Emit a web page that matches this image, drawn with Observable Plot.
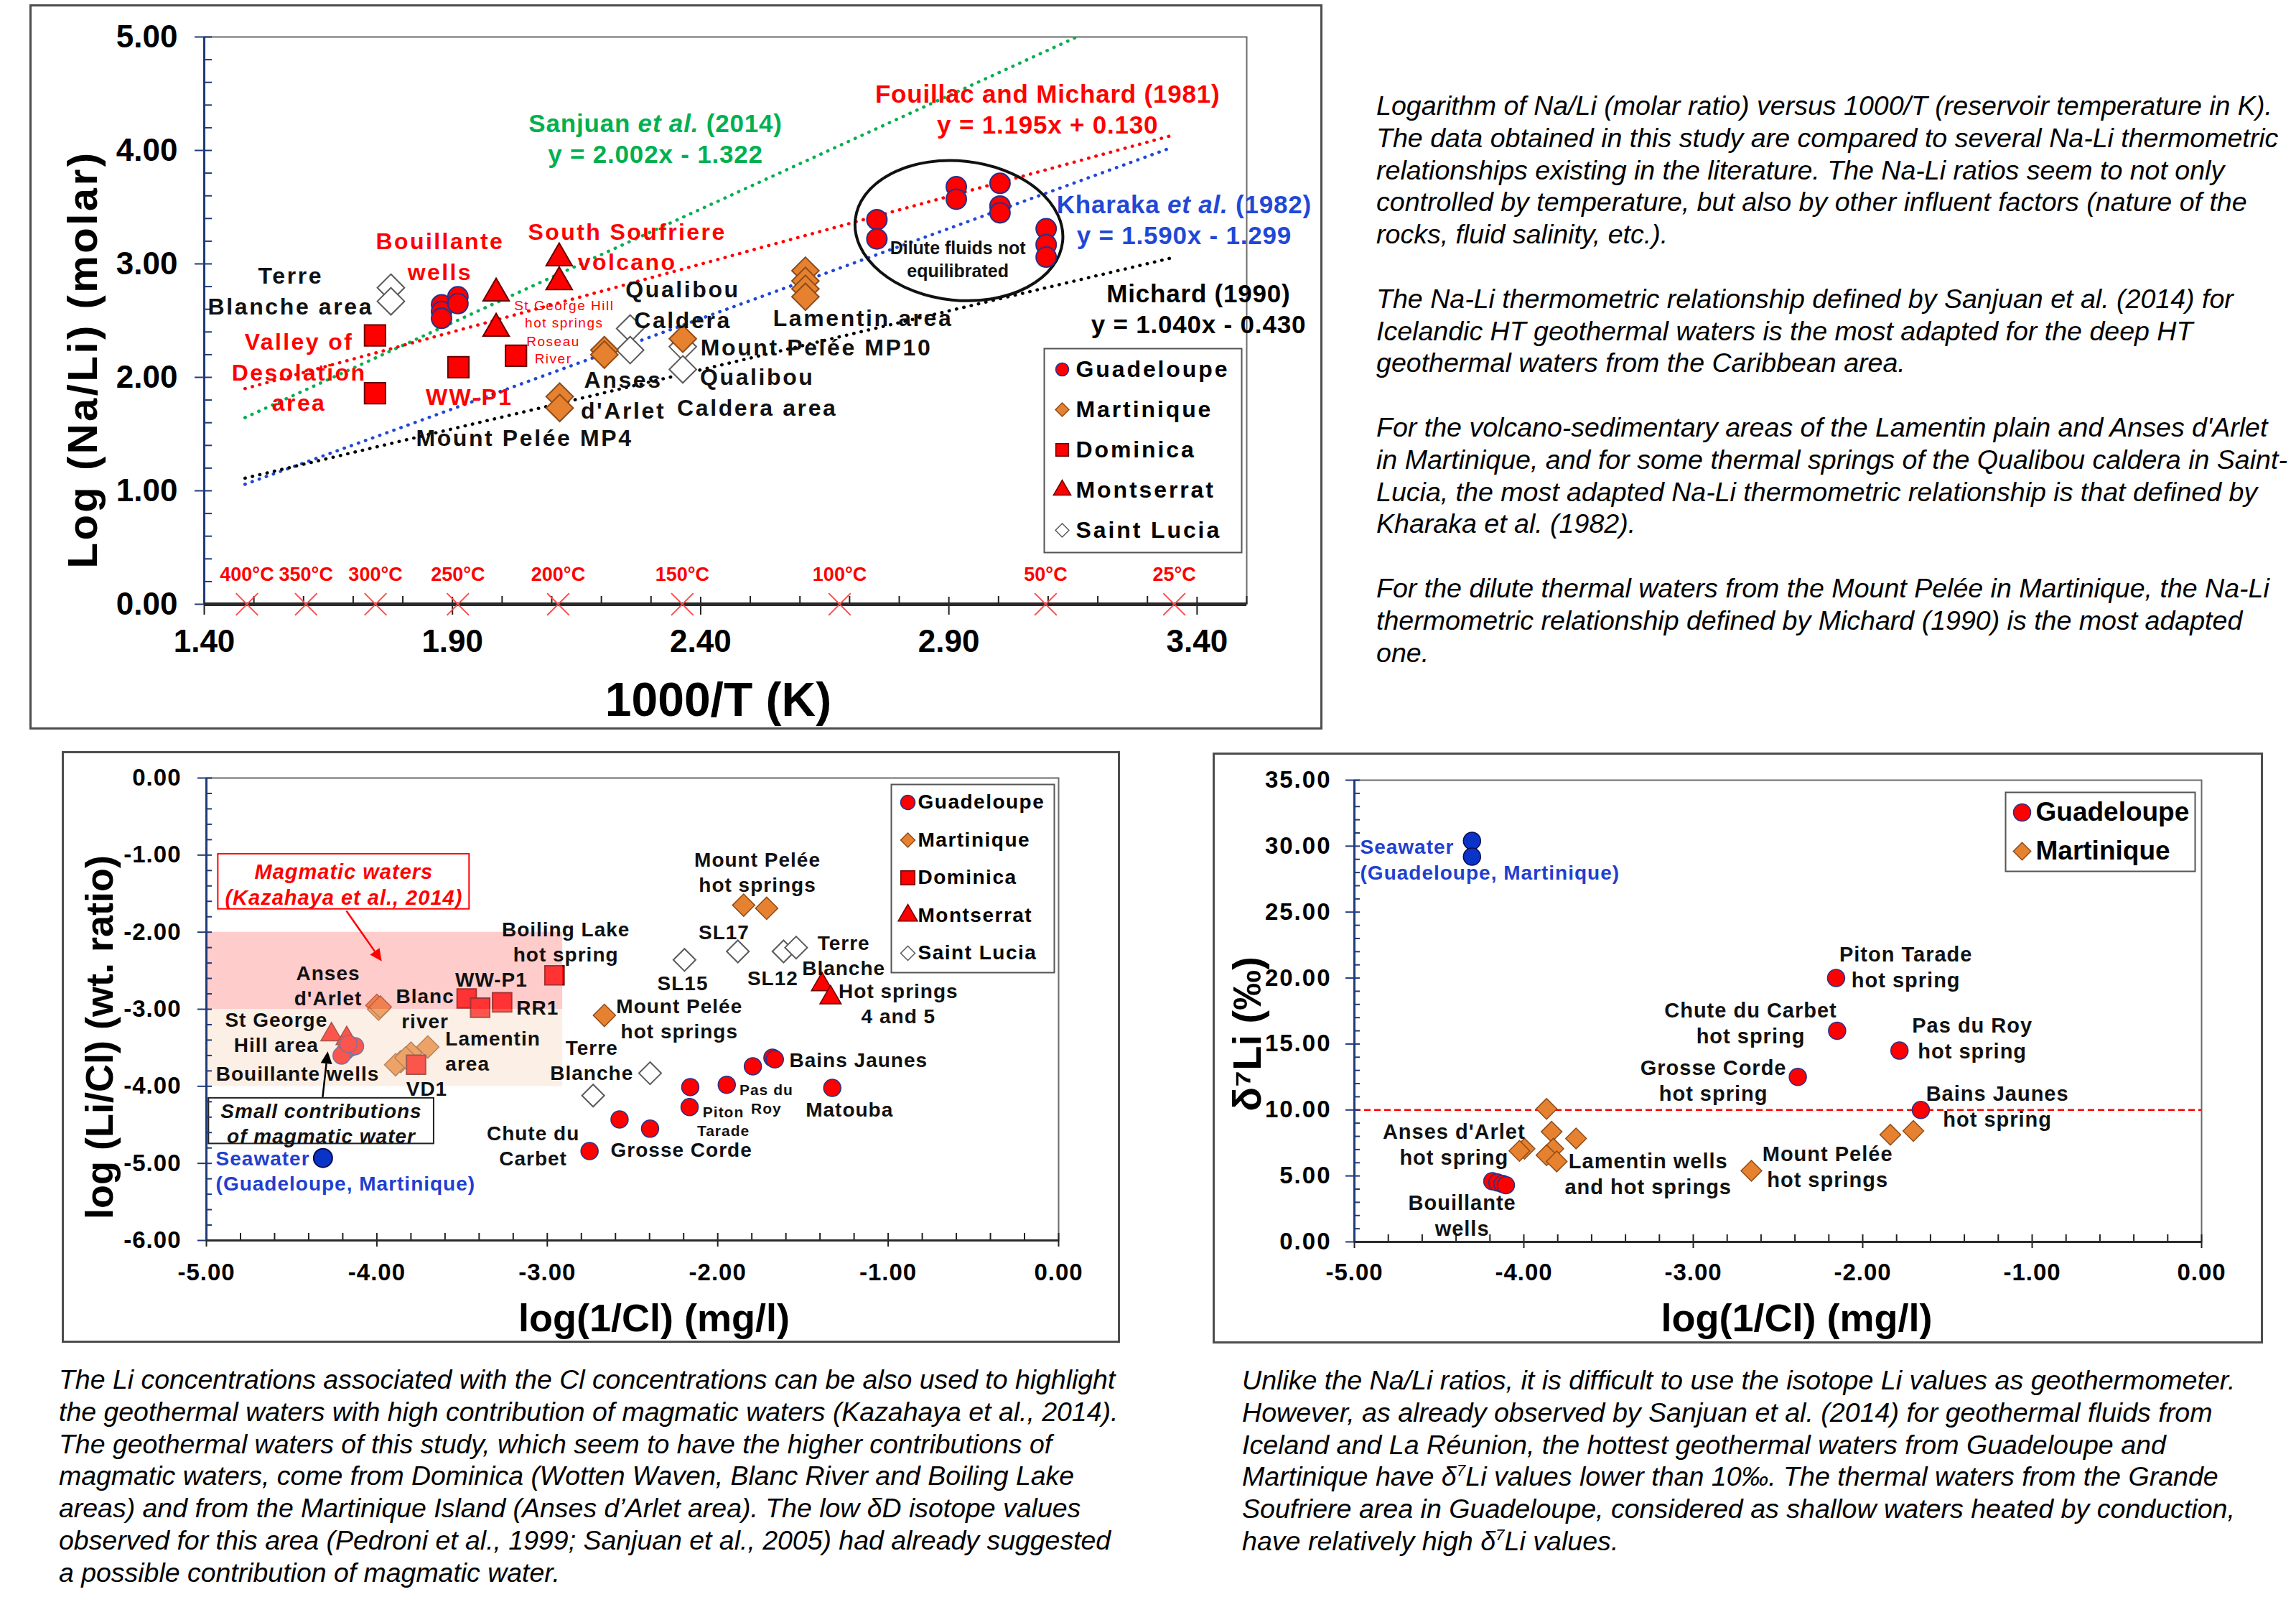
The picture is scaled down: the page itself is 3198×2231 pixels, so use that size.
<!DOCTYPE html>
<html lang="en">
<head>
<meta charset="utf-8">
<title>Na-Li and Li isotope geothermometry, Lesser Antilles</title>
<script src="https://cdn.jsdelivr.net/npm/d3@7"></script>
<script src="https://cdn.jsdelivr.net/npm/@observablehq/plot@0.6"></script>
<style>
  html, body { margin: 0; padding: 0; background: #fff; }
  #page { position: relative; width: 3198px; height: 2231px; overflow: hidden; background: #fff;
          font-family: "Liberation Sans", Arial, Helvetica, sans-serif; color: #000; }
  .panel { position: absolute; }
  .panel > svg { position: absolute; left: 0; top: 0; max-width: none; }
  .panel > .border { position: absolute; left: 0; top: 0; right: 0; bottom: 0; box-sizing: border-box;
                     border: 3px solid #4d4d4d; pointer-events: none; }
  .note { position: absolute; font-style: italic; white-space: nowrap; color: #000; line-height: 44.8px; }
</style>
</head>
<body>
<div id="page"></div>
<script>
const FONT = '"Liberation Sans", Arial, Helvetica, sans-serif';
const RED = "#ff0000", NAVY = "#27318a", AXIS_BLUE = "#1f3a7a", ORANGE = "#e6812f", ORANGE_EDGE = "#8f4c1a",
      DARK_RED = "#6a0000", LUCIA_EDGE = "#5a5a5a", GREEN = "#00b050", BLUE = "#1f48d6", SEA = "#0a34c8",
      LABEL_BLUE = "#1f3fcf";

// ===================== Log(Na/Li) versus 1000/T =====================
// [1000/T (K), log(Na/Li) molar]
const naliGuadeloupe = [[1.878,2.64],[1.878,2.58],[1.878,2.52],[1.911,2.71],[1.911,2.65],
  [2.755,3.39],[2.755,3.22],[2.915,3.68],[2.915,3.57],[3.003,3.71],[3.003,3.51],[3.003,3.45],
  [3.096,3.31],[3.096,3.17],[3.096,3.06]];
const naliMartinique = [[2.116,1.83],[2.116,1.73],[2.206,2.24],[2.206,2.20],[2.364,2.34],
  [2.611,2.94],[2.611,2.85],[2.611,2.78],[2.611,2.71]];
const naliDominica = [[1.744,2.37],[1.744,1.86],[1.912,2.09],[2.028,2.19]];
const naliMontserrat = [[1.988,2.74],[1.988,2.43],[2.115,3.05],[2.115,2.84]];
const naliSaintLucia = [[1.776,2.79],[1.776,2.67],[2.258,2.43],[2.258,2.24],[2.364,2.27],[2.364,2.07]];

// Na-Li geothermometers: log(Na/Li) = slope * (1000/T) + intercept
const naliEquations = [
  {ref: "Sanjuan et al. (2014)", slope: 2.002, intercept: -1.322},
  {ref: "Fouillac and Michard (1981)", slope: 1.195, intercept: 0.130},
  {ref: "Kharaka et al. (1982)", slope: 1.590, intercept: -1.299},
  {ref: "Michard (1990)", slope: 1.040, intercept: -0.430}
];
const naliEquationColors = [GREEN, RED, BLUE, "#000"];
const naliEquationRange = [1.482, 3.35];
const naliEquationLabelAt = [[2.309, 4.115], [3.099, 4.37], [3.374, 3.395], [3.403, 2.615]];

// reservoir temperatures marked on the 1000/T axis
const tempC = [400, 350, 300, 250, 200, 150, 100, 50, 25];
const tempInvT = [1.486, 1.605, 1.745, 1.911, 2.113, 2.363, 2.680, 3.095, 3.354];

const naliXTicks = [1.4, 1.9, 2.4, 2.9, 3.4];
const naliYTicks = [0, 1, 2, 3, 4, 5];

// area that groups the dilute, non-equilibrated Guadeloupe fluids
const diluteArea = {cx: 2.921, cy: 3.29, dx: 0.21, dy: 0.614};

const naliNotesBlack = [
  {x: 1.574, y: 2.775, text: "Terre\nBlanche area"},
  {x: 2.364, y: 2.655, text: "Qualibou\nCaldera"},
  {x: 2.727, y: 2.54, text: "Lamentin area"},
  {x: 2.633, y: 2.28, text: "Mount Pelée MP10"},
  {x: 2.244, y: 1.86, text: "Anses\nd'Arlet"},
  {x: 2.514, y: 1.885, text: "Qualibou\nCaldera area"},
  {x: 2.045, y: 1.48, text: "Mount Pelée MP4"}
];
const naliNotesRed = [
  {x: 1.875, y: 3.08, text: "Bouillante\nwells"},
  {x: 2.252, y: 3.165, text: "South Soufriere\nvolcano"},
  {x: 1.591, y: 2.06, text: "Valley of\nDesolation\narea"},
  {x: 1.934, y: 1.84, text: "WW-P1"}
];
const naliNotesSmallRed = [
  {x: 2.125, y: 2.567, text: "St George Hill\nhot springs"},
  {x: 2.103, y: 2.25, text: "Roseau\nRiver"}
];
const naliNoteDilute = [{x: 2.918, y: 3.05, text: "Dilute fluids not\nequilibrated"}];

// ===================== log(Li/Cl) versus log(1/Cl) =====================
// [log(1/Cl) mg/l, log(Li/Cl) wt. ratio]
const licGuadeloupe = [[-4.187,-3.55],[-4.157,-3.50],[-4.128,-3.48],[-4.207,-3.60],[-4.167,-3.45],
  [-1.679,-3.63],[-1.665,-3.65],[-1.794,-3.74],[-1.947,-3.98],[-2.161,-4.01],[-2.165,-4.27],
  [-1.328,-4.02],[-2.576,-4.43],[-2.397,-4.55],[-2.752,-4.84]];
const licSeawater = [[-4.316,-4.93]];
const licMartinique = [[-4.000,-2.95],[-3.990,-3.00],[-3.980,-2.97],
  [-3.701,-3.49],[-3.800,-3.57],[-3.860,-3.68],[-3.890,-3.72],[-3.830,-3.63],
  [-1.848,-1.65],[-1.713,-1.69],[-2.665,-3.08]];
const licDominica = [[-3.770,-3.72],[-3.473,-2.86],[-3.394,-2.98],[-3.265,-2.91],[-2.958,-2.56]];
const licMontserrat = [[-4.266,-3.33],[-4.177,-3.38],[-1.388,-2.68],[-1.338,-2.85]];
const licSaintLucia = [[-1.882,-2.25],[-2.195,-2.36],[-1.614,-2.25],[-1.540,-2.20],[-2.397,-3.83],[-2.731,-4.12]];

// Kazahaya et al. (2014) magmatic-water ranges
const magmaticBand = {x1: -5, x2: -2.91, y1: -2, y2: -3};
const smallMagmaticBand = {x1: -5, x2: -2.91, y1: -3, y2: -4};
const magmaticBox = {x1: -4.931, x2: -3.457, y1: -0.987, y2: -1.702};
const smallBox = {x1: -4.986, x2: -3.665, y1: -4.154, y2: -4.746};
const magmaticArrow = {x1: -4.177, y1: -1.727, x2: -3.969, y2: -2.383};
const smallArrow = {x1: -4.316, y1: -4.144, x2: -4.286, y2: -3.552};

const licXTicks = [-5, -4, -3, -2, -1, 0];
const licYTicks = [0, -1, -2, -3, -4, -5, -6];

const licNotes = [
  {x: -2.891, y: -2.11, text: "Boiling Lake\nhot spring"},
  {x: -4.286, y: -2.68, text: "Anses\nd'Arlet"},
  {x: -3.328, y: -2.60, text: "WW-P1"},
  {x: -3.717, y: -2.98, text: "Blanc\nriver"},
  {x: -3.057, y: -2.97, text: "RR1"},
  {x: -4.590, y: -3.29, text: "St George\nHill area"},
  {x: -4.465, y: -3.82, text: "Bouillante wells"},
  {x: -3.707, y: -4.02, text: "VD1"},
  {x: -3.083, y: -4.76, text: "Chute du\nCarbet"},
  {x: -2.739, y: -3.65, text: "Terre\nBlanche"},
  {x: -1.767, y: -1.205, text: "Mount Pelée\nhot springs"},
  {x: -1.963, y: -1.99, text: "SL17"},
  {x: -2.205, y: -2.65, text: "SL15"},
  {x: -1.677, y: -2.58, text: "SL12"},
  {x: -1.261, y: -2.29, text: "Terre\nBlanche"},
  {x: -0.940, y: -2.915, text: "Hot springs\n4 and 5"},
  {x: -2.225, y: -3.11, text: "Mount Pelée\nhot springs"},
  {x: -1.174, y: -3.65, text: "Bains Jaunes"},
  {x: -1.227, y: -4.29, text: "Matouba"},
  {x: -2.213, y: -4.81, text: "Grosse Corde"}
];
const licNotesLeft = [{x: -3.598, y: -3.525, text: "Lamentin\narea"}];
const licNotesSmall = [
  {x: -1.715, y: -4.155, text: "Pas du\nRoy"},
  {x: -1.967, y: -4.445, text: "Piton\nTarade"}
];
const licSeawaterNote = [{x: -4.945, y: -5.085, text: "Seawater\n(Guadeloupe, Martinique)"}];
const licMagmaticNote = [{x: -4.194, y: -1.37, text: "Magmatic waters\n(Kazahaya et al., 2014)"}];
const licSmallNote = [{x: -4.326, y: -4.47, text: "Small contributions\nof magmatic water"}];

// ===================== δ7Li versus log(1/Cl) =====================
// [log(1/Cl) mg/l, δ7Li ‰]
const d7Guadeloupe = [[-4.186,4.6],[-4.156,4.5],[-4.126,4.4],[-4.106,4.3],
  [-2.157,20.0],[-2.151,16.0],[-1.783,14.5],[-2.383,12.5],[-1.657,10.0]];
const d7Seawater = [[-4.306,30.4],[-4.306,29.2]];
const d7Martinique = [[-3.866,10.08],[-3.836,8.35],[-3.692,7.84],[-3.996,7.06],[-4.026,6.90],
  [-3.826,7.06],[-3.866,6.57],[-3.806,6.10],[-1.837,8.12],[-1.701,8.41],[-2.657,5.39]];
const d7Threshold = 10;

const d7XTicks = [-5, -4, -3, -2, -1, 0];
const d7YTicks = [0, 5, 10, 15, 20, 25, 30, 35];

const d7Notes = [
  {x: -4.412, y: 7.445, text: "Anses d'Arlet\nhot spring"},
  {x: -4.364, y: 2.085, text: "Bouillante\nwells"},
  {x: -3.266, y: 5.225, text: "Lamentin wells\nand hot springs"},
  {x: -2.661, y: 16.64, text: "Chute du Carbet\nhot spring"},
  {x: -2.881, y: 12.29, text: "Grosse Corde\nhot spring"},
  {x: -1.745, y: 20.92, text: "Piton Tarade\nhot spring"},
  {x: -1.353, y: 15.525, text: "Pas du Roy\nhot spring"},
  {x: -1.205, y: 10.34, text: "Bains Jaunes\nhot spring"},
  {x: -2.207, y: 5.745, text: "Mount Pelée\nhot springs"}
];
const d7SeawaterNote = [{x: -4.966, y: 29.05, text: "Seawater\n(Guadeloupe, Martinique)"}];

// ===================== helpers =====================
const page = document.getElementById("page");
const fmt2 = d => d.toFixed(2);
const px = d => d[0], py = d => d[1];

function mount(svg, left, top, w, h) {
  const wrap = document.createElement("div");
  wrap.className = "panel";
  Object.assign(wrap.style, {left: left + "px", top: top + "px", width: w + "px", height: h + "px"});
  wrap.appendChild(svg);
  const border = document.createElement("div");
  border.className = "border";
  wrap.appendChild(border);
  page.appendChild(wrap);
}

// run a callback on the rendered <g> of a mark
function decorate(mark, fn) {
  const render = mark.render;
  mark.render = function (...args) {
    const g = render.apply(this, args);
    if (g) fn(g);
    return g;
  };
  return mark;
}
const spaced = (mark, ls) => decorate(mark, g => { g.style.letterSpacing = ls + "px"; });

// set "et al." in italics inside a rendered text group
function italicEtAl(g) {
  const ns = "http://www.w3.org/2000/svg";
  g.querySelectorAll("text, tspan").forEach(node => {
    if (node.childElementCount) return;
    const s = node.textContent, i = s.indexOf("et al.");
    if (i < 0) return;
    node.textContent = "";
    node.appendChild(document.createTextNode(s.slice(0, i)));
    const it = document.createElementNS(ns, "tspan");
    it.setAttribute("font-style", "italic");
    it.textContent = "et al.";
    node.appendChild(it);
    node.appendChild(document.createTextNode(s.slice(i + 6)));
  });
}

function legend(items, {left, top, right, bottom, symX, textX, rowY, rowH, fontSize, fontWeight, letterSpacing}) {
  const marks = [Plot.frame({fill: "white", stroke: "#555", strokeWidth: 2,
    insetLeft: left, insetTop: top, insetRight: right, insetBottom: bottom})];
  items.forEach((it, i) => {
    marks.push(Plot.dot([it], {frameAnchor: "top-left", dx: symX, dy: rowY + i * rowH,
      symbol: it.symbol, r: it.r, fill: it.fill, stroke: it.stroke, strokeWidth: 1.5}));
    marks.push(spaced(Plot.text([it.label], {frameAnchor: "top-left", dx: textX, dy: rowY + i * rowH,
      textAnchor: "start", lineAnchor: "middle", fontSize, fontWeight, fill: "#000"}), letterSpacing));
  });
  return marks;
}

function arrowMarks(a, color) {
  return (index, {x, y}) => {
    const x1 = x(a.x1), y1 = y(a.y1), x2 = x(a.x2), y2 = y(a.y2);
    const ang = Math.atan2(y2 - y1, x2 - x1), L = 17, W = 8;
    const bx = x2 - L * Math.cos(ang), by = y2 - L * Math.sin(ang);
    const g = d3.create("svg:g");
    g.append("line").attr("x1", x1).attr("y1", y1).attr("x2", bx).attr("y2", by)
      .attr("stroke", color).attr("stroke-width", 2.5);
    g.append("path").attr("fill", color)
      .attr("d", `M${x2},${y2}L${bx + W * Math.sin(ang)},${by - W * Math.cos(ang)}L${bx - W * Math.sin(ang)},${by + W * Math.cos(ang)}Z`);
    return g.node();
  };
}

// ===================== chart 1: log(Na/Li) vs 1000/T =====================
{
  const w = 1801, h = 1010, ml = 243, mr = 106, mt = 45, mb = 175;
  const pw = w - ml - mr, ph = h - mt - mb;
  const xMinor = d3.range(14, 36).map(d => d / 10).filter(d => !naliXTicks.some(t => Math.abs(t - d) < 1e-9));
  const yMinor = d3.range(0, 26).map(d => d / 5).filter(d => d % 1 !== 0);
  const eqLines = naliEquations.flatMap((e, i) => naliEquationRange.map(x =>
    ({ref: e.ref, color: naliEquationColors[i], x, y: e.slope * x + e.intercept})));
  const eqText = naliEquations.map((e, i) => ({
    x: naliEquationLabelAt[i][0], y: naliEquationLabelAt[i][1], color: naliEquationColors[i],
    text: `${e.ref}\ny = ${e.slope.toFixed(3)}x ${e.intercept < 0 ? "-" : "+"} ${Math.abs(e.intercept).toFixed(3)}`
  }));
  const temps = tempC.map((t, i) => ({label: `${t}°C`, x: tempInvT[i]}));

  const svg = Plot.plot({
    width: w, height: h, marginLeft: ml, marginRight: mr, marginTop: mt, marginBottom: mb,
    x: {domain: [1.4, 3.5], axis: null},
    y: {domain: [0, 5], axis: null},
    color: {type: "identity"},
    style: {fontFamily: FONT, background: "white", color: "#000", overflow: "visible"},
    marks: [
      Plot.frame({stroke: "#6b6b6b", strokeWidth: 2}),
      Plot.line(eqLines, {x: "x", y: "y", z: "ref", stroke: "color", strokeWidth: 4.5,
        strokeDasharray: "0.5 10", strokeLinecap: "round", clip: true}),
      (index, {x, y}) => {
        const cx = x(diluteArea.cx), cy = y(diluteArea.cy);
        const rx = Math.abs(x(diluteArea.cx + diluteArea.dx) - cx);
        const ry = Math.abs(y(diluteArea.cy + diluteArea.dy) - cy);
        return d3.create("svg:ellipse").attr("cx", cx).attr("cy", cy).attr("rx", rx).attr("ry", ry)
          .attr("transform", `rotate(6 ${cx} ${cy})`)
          .attr("fill", "none").attr("stroke", "#111").attr("stroke-width", 4).node();
      },
      // ticks and axis lines
      Plot.ruleX(xMinor, {x: d => d, insetTop: ph - 11, stroke: "#222", strokeWidth: 2}),
      Plot.ruleX(naliXTicks, {x: d => d, insetTop: ph - 10, insetBottom: -15, stroke: "#222", strokeWidth: 2}),
      Plot.ruleY(yMinor, {y: d => d, insetRight: pw - 11, stroke: AXIS_BLUE, strokeWidth: 2}),
      Plot.ruleY(naliYTicks, {y: d => d, insetLeft: -13, insetRight: pw - 11, stroke: AXIS_BLUE, strokeWidth: 2}),
      Plot.ruleX([1.4], {stroke: AXIS_BLUE, strokeWidth: 3}),
      Plot.ruleY([0], {stroke: "#2a2a2a", strokeWidth: 5}),
      // reservoir temperatures
      Plot.dot(temps, {x: "x", y: 0, symbol: "times", r: 14, stroke: "#ff4a4a", strokeWidth: 2}),
      Plot.text(temps, {x: "x", y: 0, dy: -41, text: "label", fill: RED, fontSize: 27, fontWeight: "bold"}),
      // samples
      Plot.dot(naliSaintLucia, {x: px, y: py, symbol: "diamond2", r: 17, fill: "white", stroke: LUCIA_EDGE, strokeWidth: 2}),
      Plot.dot(naliMartinique, {x: px, y: py, symbol: "diamond2", r: 17, fill: ORANGE, stroke: ORANGE_EDGE, strokeWidth: 2}),
      Plot.dot(naliDominica, {x: px, y: py, symbol: "square", r: 16.5, fill: RED, stroke: DARK_RED, strokeWidth: 2}),
      Plot.dot(naliMontserrat, {x: px, y: py, symbol: "triangle", r: 13.5, fill: RED, stroke: DARK_RED, strokeWidth: 2}),
      Plot.dot(naliGuadeloupe, {x: px, y: py, r: 14, fill: RED, stroke: NAVY, strokeWidth: 2}),
      // annotations
      decorate(spaced(Plot.text(eqText, {x: "x", y: "y", text: "text", fill: "color", fontSize: 35, fontWeight: "bold",
        lineHeight: 1.23}), 0.8), italicEtAl),
      spaced(Plot.text(naliNotesBlack, {x: "x", y: "y", text: "text", fill: "#111", fontSize: 32, fontWeight: "bold",
        lineHeight: 1.33}), 2.6),
      spaced(Plot.text(naliNotesRed, {x: "x", y: "y", text: "text", fill: RED, fontSize: 32, fontWeight: "bold",
        lineHeight: 1.33}), 2.4),
      spaced(Plot.text(naliNotesSmallRed, {x: "x", y: "y", text: "text", fill: RED, fontSize: 19,
        lineHeight: 1.28}), 1.5),
      Plot.text(naliNoteDilute, {x: "x", y: "y", text: "text", fill: "#111", fontSize: 25, fontWeight: "bold",
        lineHeight: 1.28}),
      // legend
      ...legend([
        {label: "Guadeloupe", symbol: "circle", r: 9, fill: RED, stroke: NAVY},
        {label: "Martinique", symbol: "diamond2", r: 8.5, fill: ORANGE, stroke: ORANGE_EDGE},
        {label: "Dominica", symbol: "square", r: 10, fill: RED, stroke: DARK_RED},
        {label: "Montserrat", symbol: "triangle", r: 9, fill: RED, stroke: DARK_RED},
        {label: "Saint Lucia", symbol: "diamond2", r: 8.5, fill: "white", stroke: LUCIA_EDGE}
      ], {left: 1170, top: 434, right: 7, bottom: 72, symX: 1195, textX: 1214, rowY: 463, rowH: 56,
          fontSize: 32, fontWeight: "bold", letterSpacing: 2.9}),
      // tick labels
      Plot.text(naliXTicks, {x: d => d, frameAnchor: "bottom", dy: 52, lineAnchor: "middle", text: fmt2, fontSize: 44, fontWeight: "bold"}),
      Plot.text(naliYTicks, {y: d => d, frameAnchor: "left", dx: -37, textAnchor: "end", lineAnchor: "middle", text: fmt2, fontSize: 44, fontWeight: "bold"}),
      // axis titles
      Plot.text(["1000/T (K)"], {frameAnchor: "bottom", dx: -10, dy: 134, textAnchor: "middle", lineAnchor: "middle",
        fontSize: 66, fontWeight: "bold"}),
      spaced(Plot.text(["Log (Na/Li) (molar)"], {frameAnchor: "left", rotate: -90, dx: -168, dy: 54,
        textAnchor: "middle", lineAnchor: "middle", fontSize: 58, fontWeight: "bold"}), 3.5)
    ]
  });
  mount(svg, 41, 6, w, h);
}

// ===================== chart 2: log(Li/Cl) vs log(1/Cl) =====================
{
  const w = 1474, h = 824, ml = 201, mr = 86, mt = 37, mb = 143;
  const pw = w - ml - mr, ph = h - mt - mb;
  const xMinor = d3.range(-25, 1).map(d => d / 5).filter(d => d % 1 !== 0);
  const yMinor = d3.range(-30, 1).map(d => d / 5).filter(d => d % 1 !== 0);

  const svg = Plot.plot({
    width: w, height: h, marginLeft: ml, marginRight: mr, marginTop: mt, marginBottom: mb,
    x: {domain: [-5, 0], axis: null},
    y: {domain: [-6, 0], axis: null},
    color: {type: "identity"},
    style: {fontFamily: FONT, background: "white", color: "#000", overflow: "visible", letterSpacing: "1px"},
    marks: [
      Plot.frame({stroke: "#6b6b6b", strokeWidth: 2}),
      // samples
      Plot.dot(licSaintLucia, {x: px, y: py, symbol: "diamond2", r: 14, fill: "white", stroke: LUCIA_EDGE, strokeWidth: 2}),
      Plot.dot(licMartinique, {x: px, y: py, symbol: "diamond2", r: 14, fill: ORANGE, stroke: ORANGE_EDGE, strokeWidth: 1.5}),
      Plot.dot(licDominica, {x: px, y: py, symbol: "square", r: 15, fill: RED, stroke: DARK_RED, strokeWidth: 2}),
      Plot.dot(licMontserrat, {x: px, y: py, symbol: "triangle", r: 11, fill: RED, stroke: DARK_RED, strokeWidth: 1.5}),
      Plot.dot(licGuadeloupe, {x: px, y: py, r: 12, fill: RED, stroke: NAVY, strokeWidth: 1.5}),
      Plot.dot(licSeawater, {x: px, y: py, r: 13, fill: SEA, stroke: "#0a0a50", strokeWidth: 2}),
      // translucent magmatic-water ranges
      Plot.rect([magmaticBand], {x1: "x1", x2: "x2", y1: "y1", y2: "y2", fill: "#ff7f7f", fillOpacity: 0.4}),
      Plot.rect([smallMagmaticBand], {x1: "x1", x2: "x2", y1: "y1", y2: "y2", fill: "#f8d6be", fillOpacity: 0.4}),
      Plot.rect([magmaticBox], {x1: "x1", x2: "x2", y1: "y1", y2: "y2", fill: "white", stroke: RED, strokeWidth: 2}),
      Plot.rect([smallBox], {x1: "x1", x2: "x2", y1: "y1", y2: "y2", fill: "white", stroke: "#222", strokeWidth: 2}),
      arrowMarks(magmaticArrow, RED),
      arrowMarks(smallArrow, "#000"),
      // ticks and axis lines
      Plot.ruleX(xMinor, {x: d => d, insetTop: ph - 10, stroke: "#222", strokeWidth: 2}),
      Plot.ruleX(licXTicks, {x: d => d, insetTop: ph - 10, insetBottom: -9, stroke: "#222", strokeWidth: 2}),
      Plot.ruleY(yMinor, {y: d => d, insetRight: pw - 8, stroke: AXIS_BLUE, strokeWidth: 2}),
      Plot.ruleY(licYTicks, {y: d => d, insetLeft: -12, insetRight: pw - 8, stroke: AXIS_BLUE, strokeWidth: 2}),
      Plot.ruleX([-5], {stroke: AXIS_BLUE, strokeWidth: 3}),
      Plot.ruleY([-6], {stroke: "#2a2a2a", strokeWidth: 3}),
      // annotations
      Plot.text(licNotes, {x: "x", y: "y", text: "text", fill: "#111", fontSize: 28, fontWeight: "bold", lineHeight: 1.25}),
      Plot.text(licNotesLeft, {x: "x", y: "y", text: "text", fill: "#111", fontSize: 28, fontWeight: "bold", lineHeight: 1.25, textAnchor: "start"}),
      Plot.text(licNotesSmall, {x: "x", y: "y", text: "text", fill: "#111", fontSize: 21, fontWeight: "bold", lineHeight: 1.25}),
      Plot.text(licSeawaterNote, {x: "x", y: "y", text: "text", fill: LABEL_BLUE, fontSize: 28, fontWeight: "bold", lineHeight: 1.26, textAnchor: "start"}),
      Plot.text(licMagmaticNote, {x: "x", y: "y", text: "text", fill: RED, fontSize: 29, fontWeight: "bold", fontStyle: "italic", lineHeight: 1.26}),
      Plot.text(licSmallNote, {x: "x", y: "y", text: "text", fill: "#111", fontSize: 28, fontWeight: "bold", fontStyle: "italic", lineHeight: 1.25}),
      // legend
      ...legend([
        {label: "Guadeloupe", symbol: "circle", r: 10, fill: RED, stroke: NAVY},
        {label: "Martinique", symbol: "diamond2", r: 9, fill: ORANGE, stroke: ORANGE_EDGE},
        {label: "Dominica", symbol: "square", r: 11, fill: RED, stroke: DARK_RED},
        {label: "Montserrat", symbol: "triangle", r: 10, fill: RED, stroke: DARK_RED},
        {label: "Saint Lucia", symbol: "diamond2", r: 9, fill: "white", stroke: LUCIA_EDGE}
      ], {left: 954, top: 9, right: 6, bottom: 373, symX: 977, textX: 991, rowY: 34, rowH: 52.5,
          fontSize: 28, fontWeight: "bold", letterSpacing: 1.5}),
      // tick labels
      Plot.text(licXTicks, {x: d => d, frameAnchor: "bottom", dy: 45, lineAnchor: "middle", text: fmt2, fontSize: 33, fontWeight: "bold"}),
      Plot.text(licYTicks, {y: d => d, frameAnchor: "left", dx: -35, textAnchor: "end", lineAnchor: "middle", text: fmt2, fontSize: 33, fontWeight: "bold"}),
      // axis titles
      spaced(Plot.text(["log(1/Cl) (mg/l)"], {frameAnchor: "bottom", dx: 30, dy: 109, textAnchor: "middle", lineAnchor: "middle",
        fontSize: 54, fontWeight: "bold"}), 0),
      spaced(Plot.text(["log (Li/Cl) (wt. ratio)"], {frameAnchor: "left", rotate: -90, dx: -148, dy: 39, textAnchor: "middle",
        lineAnchor: "middle", fontSize: 54, fontWeight: "bold"}), 0)
    ]
  });
  mount(svg, 86, 1046, w, h);
}

// ===================== chart 3: δ7Li vs log(1/Cl) =====================
{
  const w = 1463, h = 823, ml = 197, mr = 86, mt = 38, mb = 142;
  const pw = w - ml - mr, ph = h - mt - mb;
  const xMinor = d3.range(-25, 1).map(d => d / 5).filter(d => d % 1 !== 0);
  const yMinor = d3.range(0, 36).filter(d => d % 5 !== 0);

  const svg = Plot.plot({
    width: w, height: h, marginLeft: ml, marginRight: mr, marginTop: mt, marginBottom: mb,
    x: {domain: [-5, 0], axis: null},
    y: {domain: [0, 35], axis: null},
    color: {type: "identity"},
    style: {fontFamily: FONT, background: "white", color: "#000", overflow: "visible", letterSpacing: "1px"},
    marks: [
      Plot.frame({stroke: "#6b6b6b", strokeWidth: 2}),
      Plot.ruleY([d7Threshold], {stroke: RED, strokeWidth: 2.5, strokeDasharray: "9 5"}),
      // samples
      Plot.dot(d7Martinique, {x: px, y: py, symbol: "diamond2", r: 13, fill: ORANGE, stroke: ORANGE_EDGE, strokeWidth: 1.5}),
      Plot.dot(d7Guadeloupe, {x: px, y: py, r: 12, fill: RED, stroke: NAVY, strokeWidth: 1.5}),
      Plot.dot(d7Seawater, {x: px, y: py, r: 12, fill: SEA, stroke: "#0a0a50", strokeWidth: 1.5}),
      // ticks and axis lines
      Plot.ruleX(xMinor, {x: d => d, insetTop: ph - 10, stroke: "#222", strokeWidth: 2}),
      Plot.ruleX(d7XTicks, {x: d => d, insetTop: ph - 10, insetBottom: -9, stroke: "#222", strokeWidth: 2}),
      Plot.ruleY(yMinor, {y: d => d, insetRight: pw - 8, stroke: AXIS_BLUE, strokeWidth: 2}),
      Plot.ruleY(d7YTicks, {y: d => d, insetLeft: -12, insetRight: pw - 8, stroke: AXIS_BLUE, strokeWidth: 2}),
      Plot.ruleX([-5], {stroke: AXIS_BLUE, strokeWidth: 3}),
      Plot.ruleY([0], {stroke: "#2a2a2a", strokeWidth: 3}),
      // annotations
      Plot.text(d7Notes, {x: "x", y: "y", text: "text", fill: "#111", fontSize: 29, fontWeight: "bold", lineHeight: 1.24}),
      Plot.text(d7SeawaterNote, {x: "x", y: "y", text: "text", fill: LABEL_BLUE, fontSize: 28, fontWeight: "bold", lineHeight: 1.26, textAnchor: "start"}),
      // legend
      ...legend([
        {label: "Guadeloupe", symbol: "circle", r: 12, fill: RED, stroke: NAVY},
        {label: "Martinique", symbol: "diamond2", r: 11, fill: ORANGE, stroke: ORANGE_EDGE}
      ], {left: 907, top: 17, right: 9, bottom: 516, symX: 930, textX: 949, rowY: 45, rowH: 54,
          fontSize: 37, fontWeight: "bold", letterSpacing: 0}),
      // tick labels
      Plot.text(d7XTicks, {x: d => d, frameAnchor: "bottom", dy: 43, lineAnchor: "middle", text: fmt2, fontSize: 33, fontWeight: "bold"}),
      spaced(Plot.text(d7YTicks, {y: d => d, frameAnchor: "left", dx: -32, textAnchor: "end", lineAnchor: "middle", text: fmt2,
        fontSize: 33, fontWeight: "bold"}), 2),
      // axis titles
      spaced(Plot.text(["log(1/Cl) (mg/l)"], {frameAnchor: "bottom", dx: 26, dy: 107, textAnchor: "middle", lineAnchor: "middle",
        fontSize: 54, fontWeight: "bold"}), 0),
      spaced(Plot.text(["δ⁷Li (‰)"], {frameAnchor: "left", rotate: -90, dx: -148, dy: 32, textAnchor: "middle",
        lineAnchor: "middle", fontSize: 56, fontWeight: "bold"}), 0)
    ]
  });
  mount(svg, 1689, 1048, w, h);
}

// ===================== commentary =====================
function note(html, left, top, targetWidth) {
  const div = document.createElement("div");
  div.className = "note";
  div.innerHTML = html;
  div.style.left = left + "px";
  div.style.top = top + "px";
  div.style.fontSize = "36px";
  page.appendChild(div);
  const wNow = div.getBoundingClientRect().width;
  div.style.fontSize = (36 * targetWidth / wNow).toFixed(2) + "px";
}

note(
  "Logarithm of Na/Li (molar ratio) versus 1000/T (reservoir temperature in K).<br>" +
  "The data obtained in this study are compared to several Na-Li thermometric<br>" +
  "relationships existing in the literature. The Na-Li ratios seem to not only<br>" +
  "controlled by temperature, but also by other influent factors (nature of the<br>" +
  "rocks, fluid salinity, etc.).<br><br>" +
  "The Na-Li thermometric relationship defined by Sanjuan et al. (2014) for<br>" +
  "Icelandic HT geothermal waters is the most adapted for the deep HT<br>" +
  "geothermal waters from the Caribbean area.<br><br>" +
  "For the volcano-sedimentary areas of the Lamentin plain and Anses d'Arlet<br>" +
  "in Martinique, and for some thermal springs of the Qualibou caldera in Saint-<br>" +
  "Lucia, the most adapted Na-Li thermometric relationship is that defined by<br>" +
  "Kharaka et al. (1982).<br><br>" +
  "For the dilute thermal waters from the Mount Pelée in Martinique, the Na-Li<br>" +
  "thermometric relationship defined by Michard (1990) is the most adapted<br>" +
  "one.",
  1917, 125, 1269);

note(
  "The Li concentrations associated with the Cl concentrations can be also used to highlight<br>" +
  "the geothermal waters with high contribution of magmatic waters (Kazahaya et al., 2014).<br>" +
  "The geothermal waters of this study, which seem to have the higher contributions of<br>" +
  "magmatic waters, come from Dominica (Wotten Waven, Blanc River and Boiling Lake<br>" +
  "areas) and from the Martinique Island (Anses d’Arlet area). The low δD isotope values<br>" +
  "observed for this area (Pedroni et al., 1999; Sanjuan et al., 2005) had already suggested<br>" +
  "a possible contribution of magmatic water.",
  82, 1899, 1476);

note(
  "Unlike the Na/Li ratios, it is difficult to use the isotope Li values as geothermometer.<br>" +
  "However, as already observed by Sanjuan et al. (2014) for geothermal fluids from<br>" +
  "Iceland and La Réunion, the hottest geothermal waters from Guadeloupe and<br>" +
  "Martinique have δ<sup style=\"font-size:0.6em;line-height:0\">7</sup>Li values lower than 10‰. The thermal waters from the Grande<br>" +
  "Soufriere area in Guadeloupe, considered as shallow waters heated by conduction,<br>" +
  "have relatively high δ<sup style=\"font-size:0.6em;line-height:0\">7</sup>Li values.",
  1730, 1900, 1384);
</script>
</body>
</html>
